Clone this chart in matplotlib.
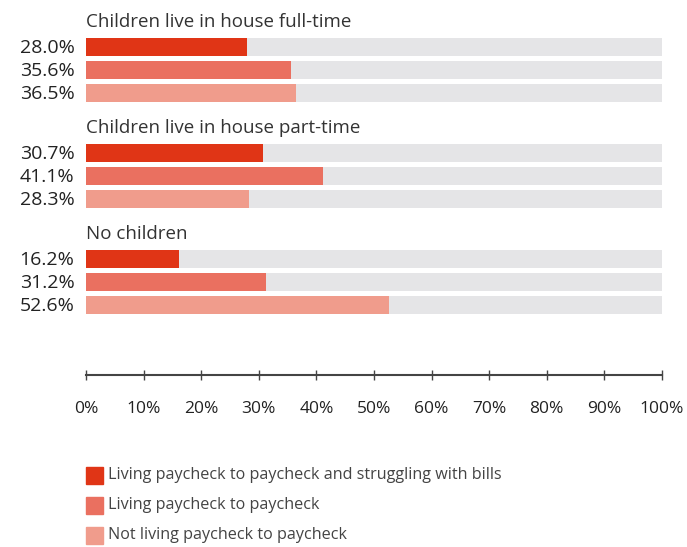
import matplotlib
matplotlib.use("Agg")
import matplotlib.pyplot as plt
from matplotlib.patches import Rectangle

plt.rcParams['font.family'] = ['Open Sans', 'DejaVu Sans']

groups = ["Children live in house full-time",
          "Children live in house part-time",
          "No children"]
series = ["Living paycheck to paycheck and struggling with bills",
          "Living paycheck to paycheck",
          "Not living paycheck to paycheck"]
values = [
    [28.0, 35.6, 36.5],
    [30.7, 41.1, 28.3],
    [16.2, 31.2, 52.6],
]
tick_values = [0, 10, 20, 30, 40, 50, 60, 70, 80, 90, 100]
tick_labels = [f"{t}%" for t in tick_values]

colors = ["#E03516", "#EA7060", "#F09C8C"]
track = "#E5E5E7"
text_col = "#333333"

W, H = 687, 547
fig = plt.figure(figsize=(W / 100, H / 100), dpi=100)

# axes spans pixel rows 10..375 so data y can be in pixel units
x0, x1 = 86, 662
y_top, y_bot = 10, 375
ax = fig.add_axes([x0 / W, 1 - y_bot / H, (x1 - x0) / W, (y_bot - y_top) / H])
ax.set_xlim(0, 100)
ax.set_ylim(y_bot, y_top)

first_center = 47
group_step = 106
row_step = 23
bar_h = 18

for g, (name, vals) in enumerate(zip(groups, values)):
    base = first_center + g * group_step
    ax.text(0, base - 25, name, fontsize=13.5, color=text_col,
            ha="left", va="center")
    for i, v in enumerate(vals):
        yc = base + i * row_step
        ax.barh(yc, 100, height=bar_h, color=track, left=0)
        ax.barh(yc, v, height=bar_h, color=colors[i], left=0)
        ax.text(-2, yc + 1, f"{v:.1f}%", fontsize=14, color="#222222",
                ha="right", va="center", clip_on=False)

for s in ["top", "left", "right"]:
    ax.spines[s].set_visible(False)
ax.spines["bottom"].set_color("#444444")
ax.spines["bottom"].set_linewidth(1.5)
ax.set_yticks([])
ax.set_xticks(tick_values)
ax.set_xticklabels(tick_labels)
ax.tick_params(axis="x", direction="inout", length=7, width=1.0,
               color="#444444", pad=15, labelsize=12.5, labelcolor="#222222")
ax.margins(x=0)

# legend
leg_y = [475, 505, 535]
for y, name, c in zip(leg_y, series, colors):
    fig.patches.append(Rectangle((86 / W, 1 - (y + 8.5) / H), 17 / W, 17 / H,
                                 transform=fig.transFigure, color=c))
    fig.text(108 / W, 1 - y / H, name, fontsize=11.6, color="#444444",
             ha="left", va="center")

fig.savefig("out.png", dpi=100, facecolor="white")
